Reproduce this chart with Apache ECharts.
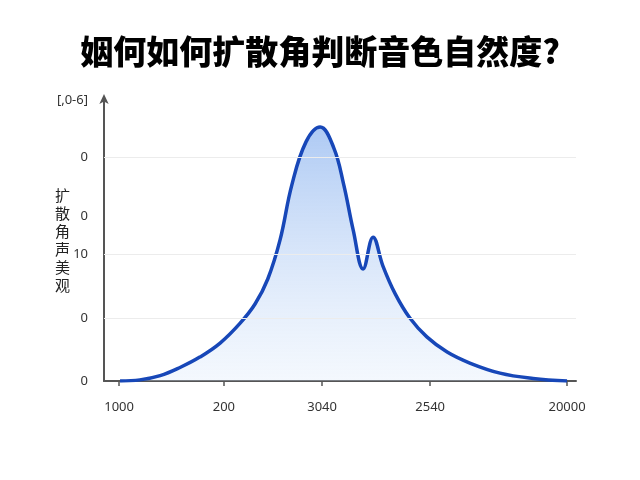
<!DOCTYPE html>
<html>
<head>
<meta charset="utf-8">
<script src="https://cdn.jsdelivr.net/npm/echarts@6/dist/echarts.min.js"></script>
<style>
  html, body { margin: 0; padding: 0; background: #fff; }
  #chart { width: 640px; height: 480px; }
</style>
</head>
<body>
<div id="chart"></div>
<script>
// curve (x and y on a 0-100 scale of the plot)
const curveX = [3.4, 7.6, 11.9, 16.1, 20.3, 24.6, 28.8, 32.0, 34.7, 37.3, 39.8, 42.8, 45.8, 48.7, 50.8, 52.8, 54.9, 57.0, 59.1, 61.7, 64.8, 68.4, 72.7, 77.5, 83.9, 90.9, 98.1]
const curveY = [0, 0.4, 1.9, 4.8, 8.5, 13.5, 20.5, 27.4, 36.3, 50.2, 69.8, 85.1, 90.4, 82.9, 69.8, 53.7, 39.9, 51.2, 40.9, 31.0, 22.4, 15.7, 10.3, 6.4, 2.8, 0.9, 0]

const xTickValues = [3.2, 25.4, 46.2, 69.1, 98.1]
const xTickLabels = ['1000', '200', '3040', '2540', '20000']

const yTickValues = [0, 22.4, 45.2, 58.7, 79.7, 100]
const yTickLabels = ['0', '0', '10', '0', '0', '[,0-6]']

const gridValues = [22.4, 45.2, 79.7]

const titleText = '姻何如何扩散角判断音色自然度?'
const yName = '扩散角声美观'

let chart = echarts.init(document.getElementById('chart'))

const xLabelMap = {}
xTickValues.forEach((v, i) => { xLabelMap[v] = xTickLabels[i] })
const yLabelMap = {}
yTickValues.forEach((v, i) => { yLabelMap[v] = yTickLabels[i] })

let option = {
    animation: false,
    title: {
        text: titleText,
        left: 'center',
        top: 30,
        textStyle: {
            fontFamily: 'Noto Sans CJK SC',
            fontSize: 33,
            fontWeight: 900,
            color: '#000'
        }
    },
    grid: { left: 104, right: 64, top: 100, bottom: 99 },
    xAxis: {
        type: 'value',
        min: 0,
        max: 100,
        axisLine: { lineStyle: { color: '#555', width: 2 } },
        axisTick: { show: true, customValues: xTickValues, length: 5, lineStyle: { color: '#555', width: 1.5 } },
        axisLabel: {
            customValues: xTickValues,
            formatter: (v) => xLabelMap[v] || '',
            margin: 20,
            fontFamily: 'Noto Sans',
            fontSize: 13,
            color: '#333'
        },
        splitLine: { show: false }
    },
    yAxis: {
        type: 'value',
        min: 0,
        max: 100,
        name: yName.split('').join('\n'),
        nameLocation: 'middle',
        nameRotate: 0,
        nameGap: 34,
        nameMoveOverlap: false,
        nameTextStyle: { fontFamily: 'Noto Sans CJK SC', fontSize: 15, lineHeight: 18, color: '#222' },
        axisLine: { show: true, symbol: ['none', 'arrow'], symbolSize: [7, 10], symbolOffset: [0, 6], lineStyle: { color: '#555', width: 2 } },
        axisTick: { show: false },
        axisLabel: {
            customValues: yTickValues,
            formatter: (v) => yLabelMap[v] || '',
            margin: 16,
            fontFamily: 'Noto Sans',
            fontSize: 13,
            color: '#333'
        },
        splitLine: { show: false }
    },
    series: [{
        type: 'line',
        data: curveX.map((x, i) => [x, curveY[i]]),
        smooth: 0.4,
        symbol: 'none',
        lineStyle: { color: '#1747b8', width: 3.5 },
        areaStyle: {
            color: new echarts.graphic.LinearGradient(0, 0, 0, 1, [
                { offset: 0, color: 'rgba(110,160,235,0.8)' },
                { offset: 1, color: 'rgba(215,230,250,0.4)' }
            ])
        },
        markLine: {
            silent: true,
            symbol: 'none',
            label: { show: false },
            lineStyle: { color: '#ececec', width: 1, type: 'solid' },
            data: gridValues.map((v) => ({ yAxis: v }))
        },
        z: 3
    }]
}
chart.setOption(option)
</script>
</body>
</html>
